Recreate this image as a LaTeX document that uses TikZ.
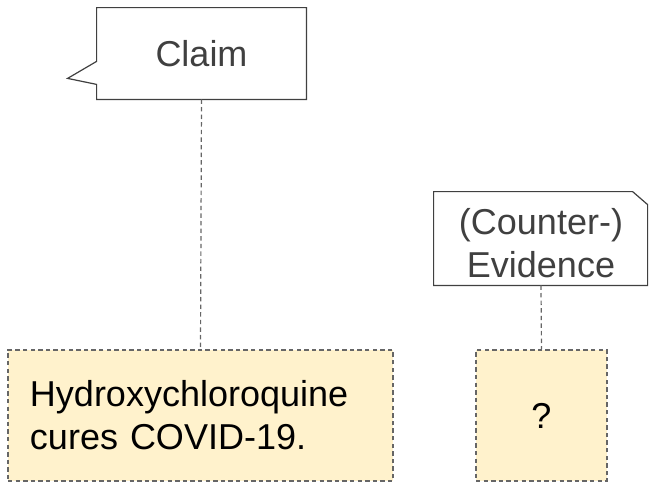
\documentclass[tikz,border=0pt]{standalone}
\usepackage{fontspec}
\setmainfont{Liberation Sans}
\usepackage{tikz}

\definecolor{notefill}{HTML}{FFF2CC}
\definecolor{edgegray}{HTML}{666666}
\definecolor{linegray}{HTML}{404040}

\tikzset{
	txt/.style={font=\fontsize{18}{21.5}\selectfont, inner sep=0pt},
	fillbox/.style={draw=edgegray, fill=notefill, dash pattern=on 2.2pt off 1.6pt, line width=0.6pt},
	conn/.style={draw=edgegray, dash pattern=on 2.2pt off 1.6pt, line width=0.6pt}
}

\begin{document}
\begin{tikzpicture}[x=0.5pt, y=-0.5pt]
				\useasboundingbox (0,0) rectangle (654,482);
				\node (claim) [txt, text=linegray, minimum width=104.5pt, minimum height=45.5pt] at (201.5,53.5) {Claim};
				\draw [linegray, line width=0.6pt] (claim.north west) -- (claim.north east) -- (claim.south east) -- (claim.south west) -- ++(0,-15) -- ++(-29,-6) -- ++(29,-17) -- cycle;
				\node (evid) [minimum width=107pt, minimum height=46.5pt] at (541,238.5) {};
				\node (evidtxt) [txt, text=linegray, align=center] at (541,243) {(Counter-)\\Evidence};
				\draw [linegray, line width=0.6pt] (evid.north west) -- ++(199,0) -- ++(15,13) |- (evid.south west) -- cycle;
				\node (hyp) [fillbox, txt, text width=170.5pt, inner xsep=11pt, minimum height=65.5pt, align=left] at (200.5,415.5) {Hydroxychloroquine\\cures COVID-19.};
				\node (quest) [fillbox, txt, minimum width=65.5pt, minimum height=65.5pt] at (541.5,415.5) {?};
				\draw [conn] (claim.south) -- (hyp.north);
				\draw [conn] (evid.south) -- (quest.north);
				\end{tikzpicture}
\end{document}
